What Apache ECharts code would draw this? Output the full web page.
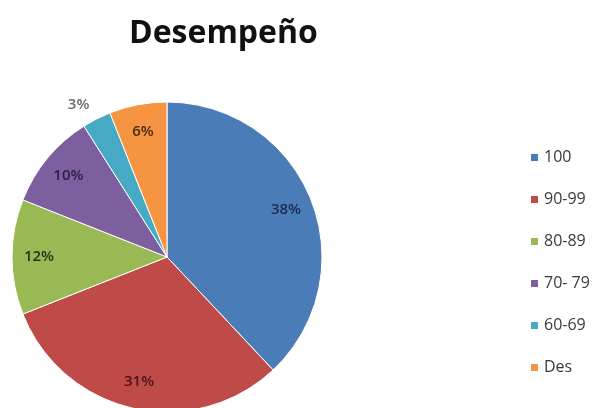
<!DOCTYPE html>
<html>
<head>
<meta charset="utf-8">
<script src="https://cdn.jsdelivr.net/npm/echarts@6/dist/echarts.min.js"></script>
<style>html,body{margin:0;padding:0;background:#fff;}#c{width:596px;height:408px;}</style>
</head>
<body>
<div id="c"></div>
<script>
var categories = ['100', '90-99', '80-89', '70- 79', '60-69', 'Des'];
var values = [38, 31, 12, 10, 3, 6];
var colors = ['#4A7DB8', '#BE4B48', '#98B954', '#7D5FA0', '#46AAC5', '#F59542'];
var labelColors = ['#1B2B4E', '#4A1515', '#25351A', '#2A1F40', '#6A6A6A', '#4A2A12'];

var mainData = categories.map(function (n, i) {
  var d = { name: n, value: values[i], itemStyle: { color: colors[i] } };
  if (i === 4) {
    d.label = { show: true, position: 'outside', color: labelColors[i], distanceToLabelLine: 0, fontWeight: 600 };
    d.labelLine = { show: false, length: 16, length2: 0 };
  }
  return d;
});
var ghostData = categories.map(function (n, i) {
  return { name: n, value: values[i], itemStyle: { color: 'rgba(0,0,0,0)' },
    label: { show: i !== 4, color: labelColors[i] } };
});

var chart = echarts.init(document.getElementById('c'), null, { renderer: 'canvas' });
chart.setOption({
  animation: false,
  backgroundColor: '#ffffff',
  title: {
    text: 'Desempeño',
    left: 124,
    top: 13,
    textStyle: { fontFamily: 'Open Sans', fontWeight: 'bold', fontSize: 32, color: '#111' }
  },
  legend: {
    orient: 'vertical',
    left: 524,
    top: 142,
    itemWidth: 9,
    itemHeight: 9,
    itemGap: 21,
    icon: 'rect',
    data: categories,
    textStyle: { fontFamily: 'Open Sans', fontSize: 16, lineHeight: 21, color: '#3a3a3a' }
  },
  series: [
    {
      type: 'pie',
      center: [167, 257],
      radius: 155,
      startAngle: 90,
      clockwise: true,
      avoidLabelOverlap: false,
      label: { show: false, formatter: '{d}%', fontFamily: 'Open Sans', fontSize: 15, fontWeight: 600 },
      labelLine: { show: false },
      itemStyle: { borderColor: '#ffffff', borderWidth: 1 },
      emphasis: { disabled: true },
      data: mainData
    },
    {
      type: 'pie',
      center: [167, 257],
      radius: 250,
      startAngle: 90,
      clockwise: true,
      silent: true,
      legendHoverLink: false,
      avoidLabelOverlap: false,
      label: { show: true, position: 'inside', formatter: '{d}%', fontFamily: 'Open Sans', fontSize: 15, fontWeight: 600 },
      labelLine: { show: false },
      emphasis: { disabled: true },
      data: ghostData
    }
  ]
});
</script>
</body>
</html>
